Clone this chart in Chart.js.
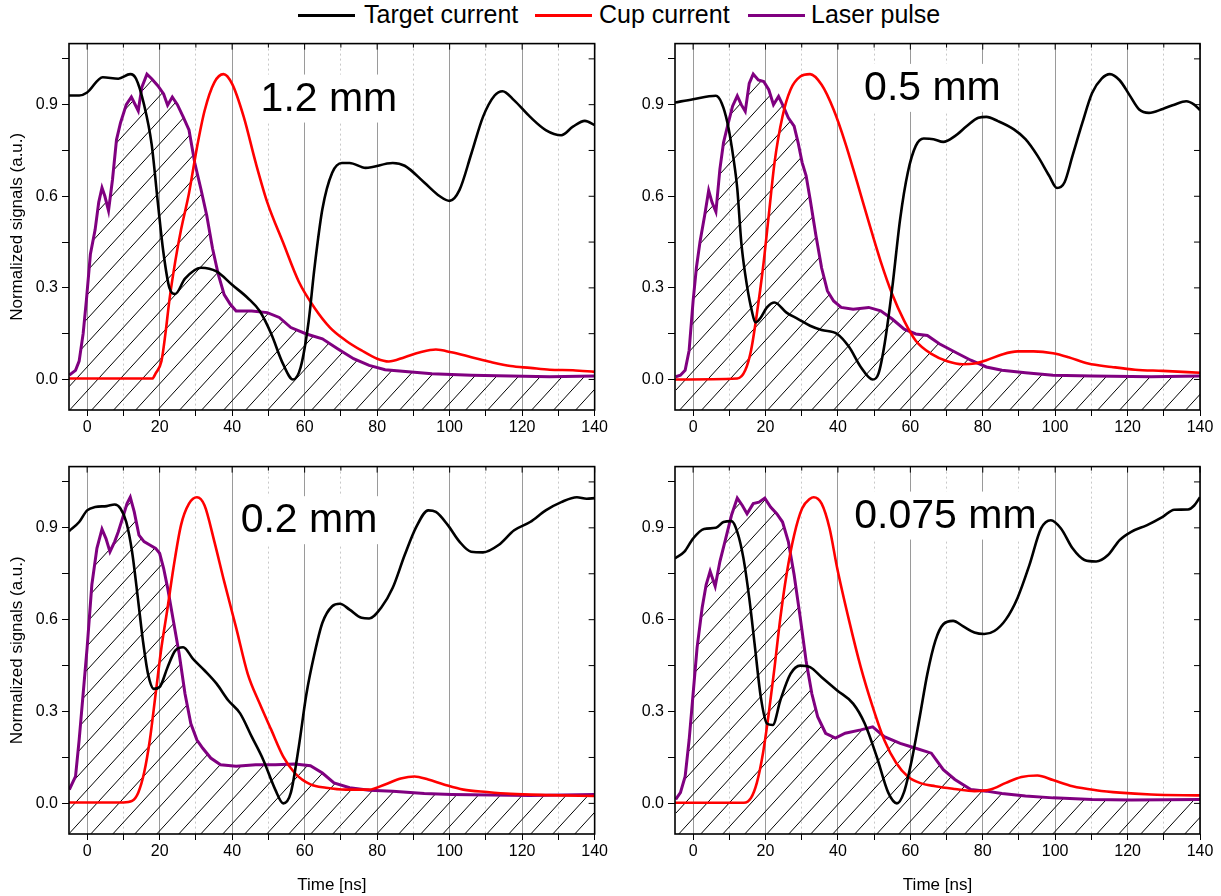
<!DOCTYPE html>
<html>
<head>
<meta charset="utf-8">
<script src="https://cdn.jsdelivr.net/npm/chart.js@4.4.1/dist/chart.umd.min.js"></script>
<style>
  html, body { margin: 0; padding: 0; background: #fff; }
  body { width: 1221px; height: 896px; position: relative; overflow: hidden; font-family: "Liberation Sans", Arial, sans-serif; }
  .box { position: absolute; }
  .legend { position: absolute; top: 0; height: 30px; font-size: 25px; color: #000; white-space: nowrap; }
  .legend span.ln { position: absolute; top: 14px; height: 3px; width: 57px; }
  .legend span.tx { position: absolute; top: 0px; }
</style>
</head>
<body>

<div class="legend" style="left:0;width:1221px">
  <span class="ln" style="left:298px;background:#000"></span><span class="tx" style="left:364px">Target current</span>
  <span class="ln" style="left:535px;background:#ff0000"></span><span class="tx" style="left:599px">Cup current</span>
  <span class="ln" style="left:748px;background:#800080"></span><span class="tx" style="left:811px">Laser pulse</span>
</div>

<div class="box" style="left:0;top:30px;width:610px;height:410px"><canvas id="c1"></canvas></div>
<div class="box" style="left:610px;top:30px;width:611px;height:410px"><canvas id="c2"></canvas></div>
<div class="box" style="left:0;top:453px;width:610px;height:443px"><canvas id="c3"></canvas></div>
<div class="box" style="left:610px;top:453px;width:611px;height:443px"><canvas id="c4"></canvas></div>

<script>
// ---- data: [time ns, normalized signal] ----

// 1.2 mm
let target12 = [[-5,0.93],[-2.2,0.93],[0,0.94],[4.3,0.99],[8.6,0.985],[11.9,1.0],[13.5,0.985],[15.7,0.90],[17.8,0.77],[19.5,0.58],[21,0.42],[22.7,0.30],[24.3,0.28],[27,0.33],[31.4,0.366],[35.7,0.354],[40,0.31],[44.3,0.267],[47.6,0.224],[50.8,0.149],[54,0.052],[56.8,0.0],[58.9,0.04],[61.1,0.19],[62.7,0.364],[64.9,0.558],[67.6,0.677],[70.3,0.709],[72.4,0.709],[76.8,0.693],[84.3,0.709],[87.6,0.70],[93,0.645],[97.3,0.60],[100,0.585],[102.7,0.62],[106,0.74],[109.2,0.86],[112.4,0.93],[114.6,0.944],[117.8,0.914],[122.2,0.86],[126.5,0.817],[130.8,0.80],[134,0.828],[137.3,0.847],[140,0.833]];
let cup12 = [[-5,0.003],[18,0.003],[18.9,0.02],[20.5,0.06],[21.6,0.15],[22.7,0.26],[24.3,0.386],[25.9,0.49],[28.1,0.61],[30.3,0.76],[32.4,0.88],[35.1,0.973],[37.6,1.0],[40,0.968],[43.2,0.86],[46.5,0.71],[49.7,0.58],[54,0.45],[58.4,0.32],[62.7,0.235],[67,0.17],[71.4,0.127],[75.7,0.095],[80,0.068],[83.2,0.059],[87.6,0.073],[91.9,0.089],[96.2,0.098],[100.5,0.089],[106,0.073],[111.4,0.057],[116.8,0.044],[122.2,0.038],[127.6,0.032],[134,0.03],[140,0.025]];
let laser12 = [[-4.9,0.014],[-3.2,0.03],[-2.2,0.06],[-1.1,0.15],[-0.2,0.26],[0.9,0.41],[2.2,0.49],[3.2,0.58],[4.1,0.628],[4.9,0.60],[5.9,0.553],[7,0.655],[8.1,0.785],[9.2,0.84],[10.8,0.90],[12.2,0.925],[14.1,0.88],[15.1,0.957],[16.5,1.0],[17.8,0.985],[19.5,0.962],[21.1,0.935],[22.2,0.898],[23.5,0.925],[24.9,0.90],[26.5,0.86],[28.1,0.817],[29.7,0.709],[31.4,0.623],[33,0.537],[34.6,0.429],[36.2,0.343],[37.8,0.278],[39.5,0.246],[41.1,0.224],[45.4,0.224],[49.7,0.219],[53,0.203],[56.2,0.17],[60.5,0.149],[64.9,0.133],[69.2,0.10],[73.5,0.068],[77.8,0.046],[82.2,0.032],[88.6,0.025],[95.1,0.019],[106,0.014],[116.8,0.011],[127.6,0.009],[140,0.011]];

// 0.5 mm
let target05 = [[-5,0.907],[0,0.918],[6.3,0.929],[7.9,0.905],[9.5,0.84],[11.2,0.72],[12.2,0.625],[13.3,0.45],[14.4,0.344],[16,0.236],[17.3,0.187],[18.7,0.203],[20.4,0.236],[22.5,0.252],[25.8,0.219],[29,0.198],[32.3,0.176],[35.5,0.162],[39.8,0.149],[43.1,0.106],[46.3,0.041],[49.6,0.0],[51.2,0.019],[52.9,0.117],[55,0.30],[57.2,0.527],[59.3,0.678],[61.5,0.765],[63.7,0.789],[66.4,0.787],[69.1,0.778],[72.3,0.797],[75.6,0.83],[78.8,0.857],[81,0.86],[84.2,0.846],[88.6,0.819],[91.8,0.787],[95.1,0.733],[98.3,0.668],[100.5,0.627],[102.6,0.646],[104.8,0.733],[107.5,0.84],[110.2,0.938],[112.9,0.986],[115.1,1.0],[117.8,0.98],[120.5,0.932],[123.2,0.884],[125.9,0.873],[129.7,0.886],[132.9,0.90],[136.2,0.911],[138.4,0.90],[140,0.882]];
let cup05 = [[-5,0.0],[12.2,0.003],[14.4,0.03],[16,0.095],[17.6,0.214],[19.3,0.365],[20.9,0.538],[22.5,0.711],[24.7,0.862],[26.9,0.949],[29.6,0.992],[32.3,1.0],[35.5,0.965],[38.8,0.884],[42,0.776],[45.3,0.646],[48.5,0.516],[51.8,0.387],[55,0.279],[58.3,0.192],[61.5,0.127],[65.8,0.084],[70.2,0.06],[74.5,0.05],[77.7,0.052],[81,0.063],[85.3,0.082],[89.6,0.092],[94,0.092],[99.4,0.086],[103.7,0.073],[109.1,0.052],[115.6,0.041],[122.1,0.032],[129.7,0.028],[140,0.022]];
let laser05 = [[-4.8,0.009],[-3.5,0.014],[-2.2,0.03],[-1.1,0.095],[0,0.257],[0.9,0.365],[1.9,0.45],[3.2,0.538],[4.3,0.619],[5.2,0.581],[6.3,0.549],[7.4,0.689],[8.4,0.776],[9.5,0.83],[10.9,0.895],[12.2,0.929],[13.3,0.90],[14.4,0.878],[15.5,0.97],[16.6,1.0],[18,0.981],[19.5,0.976],[20.9,0.949],[22.2,0.90],[23.6,0.927],[24.9,0.895],[26.3,0.857],[27.9,0.83],[29,0.776],[30.1,0.711],[31.2,0.668],[32.3,0.592],[33.9,0.473],[35.5,0.365],[37.1,0.29],[38.8,0.257],[40.9,0.236],[44.2,0.23],[48.5,0.236],[51.8,0.225],[55,0.198],[58.3,0.165],[61.5,0.149],[64.7,0.144],[68,0.117],[72.3,0.09],[76.7,0.063],[81,0.041],[85.3,0.03],[91.8,0.022],[99.4,0.014],[110.2,0.011],[126.5,0.009],[140,0.011]];

// 0.2 mm
let target02 = [[-5,0.889],[-2.2,0.919],[0,0.957],[2.2,0.968],[5.4,0.971],[7.6,0.976],[9.2,0.963],[10.8,0.919],[12.4,0.822],[14.1,0.66],[15.4,0.531],[16.8,0.423],[18.4,0.374],[20,0.38],[22.2,0.445],[24.3,0.499],[26.5,0.51],[29.2,0.472],[32.4,0.434],[35.7,0.391],[38.9,0.337],[42.2,0.294],[45.4,0.218],[48.6,0.142],[51.9,0.045],[54.1,0.0],[56.2,0.035],[58.4,0.186],[60.5,0.358],[62.7,0.488],[64.9,0.59],[67.6,0.644],[69.7,0.652],[72.4,0.633],[75.7,0.606],[77.8,0.604],[81.1,0.639],[84.3,0.704],[87.6,0.811],[90.8,0.903],[94.1,0.957],[96.2,0.952],[99.5,0.909],[102.7,0.855],[105.9,0.822],[109.2,0.82],[113.5,0.844],[117.8,0.892],[122.2,0.919],[126.5,0.957],[130.8,0.984],[135.1,1.0],[137.8,0.995],[140,0.997]];
let cup02 = [[-5,0.003],[10,0.003],[12.4,0.008],[14.1,0.035],[15.7,0.099],[17.3,0.207],[18.9,0.358],[20.5,0.509],[22.2,0.639],[23.8,0.768],[25.9,0.909],[28.1,0.979],[30.3,1.0],[32.4,0.973],[35.1,0.855],[37.8,0.725],[41.1,0.574],[44.3,0.423],[47.6,0.326],[50.8,0.24],[54.1,0.153],[57.3,0.099],[61.6,0.062],[65.9,0.051],[71.4,0.045],[77.8,0.045],[82.2,0.062],[86.5,0.081],[90.3,0.088],[94.1,0.078],[98.4,0.062],[103.8,0.045],[110.3,0.037],[116.8,0.031],[127.6,0.027],[140,0.024]];
let laser02 = [[-4.9,0.045],[-3.2,0.088],[-2.2,0.207],[-1.1,0.358],[0,0.509],[1.3,0.714],[2.7,0.833],[4.1,0.896],[5.2,0.865],[6.3,0.822],[7.6,0.855],[8.6,0.887],[9.9,0.936],[11,0.979],[11.9,1.0],[13,0.952],[14.3,0.876],[15.7,0.855],[17.3,0.844],[18.9,0.833],[20,0.817],[21.1,0.768],[22.2,0.704],[23.8,0.596],[25.4,0.488],[27,0.358],[28.6,0.261],[30.3,0.207],[31.9,0.18],[34.1,0.148],[36.8,0.126],[41.1,0.121],[46.5,0.126],[51.9,0.126],[57.3,0.129],[61.6,0.123],[64.9,0.099],[68.1,0.067],[72.4,0.051],[77.8,0.043],[84.3,0.04],[93,0.032],[100.5,0.029],[111.4,0.027],[122.2,0.026],[140,0.029]];

// 0.075 mm
let target0075 = [[-5,0.80],[-2.4,0.822],[0,0.865],[3,0.896],[6.3,0.90],[8.4,0.919],[10.6,0.922],[12.2,0.887],[13.9,0.801],[15.5,0.671],[17.1,0.509],[18.7,0.347],[20.4,0.261],[22,0.256],[24.1,0.337],[26.9,0.423],[29.6,0.45],[32.3,0.445],[35.5,0.412],[39.8,0.369],[44.2,0.326],[47.4,0.261],[50.7,0.153],[53.9,0.035],[56.3,0.0],[58.2,0.035],[60.4,0.142],[62.6,0.283],[64.7,0.423],[66.9,0.531],[69.1,0.585],[71.8,0.596],[74.5,0.579],[77.7,0.558],[80.4,0.553],[83.2,0.563],[86.4,0.601],[89.6,0.671],[92.9,0.779],[96.1,0.898],[98.8,0.925],[101.6,0.898],[104.8,0.833],[108.1,0.795],[111.3,0.79],[114.6,0.811],[117.8,0.86],[121,0.887],[125.4,0.909],[129.7,0.936],[132.9,0.959],[136.7,0.96],[138.4,0.973],[140,1.0]];
let cup0075 = [[-5,0.002],[14,0.002],[16,0.018],[17.6,0.067],[19.3,0.164],[20.9,0.294],[22.5,0.445],[24.1,0.606],[25.8,0.747],[27.9,0.876],[30.1,0.963],[32.3,0.995],[33.3,1.0],[35.5,0.979],[37.7,0.898],[39.8,0.768],[43.1,0.596],[46.3,0.445],[49.6,0.315],[52.8,0.207],[56.1,0.132],[59.3,0.088],[62.6,0.067],[66.9,0.056],[72.3,0.047],[77.7,0.04],[82.1,0.045],[86.4,0.067],[90.7,0.086],[95.1,0.091],[99.4,0.076],[104.8,0.056],[111.3,0.043],[117.8,0.035],[126.5,0.029],[140,0.026]];
let laser0075 = [[-4.8,0.013],[-3.5,0.035],[-2.2,0.088],[-1.1,0.207],[0,0.358],[1.1,0.509],[2.5,0.639],[3.6,0.714],[4.7,0.758],[6.1,0.709],[7.4,0.79],[9,0.865],[10.6,0.941],[12.2,0.997],[13.6,0.973],[14.9,0.946],[16.6,0.979],[18.2,0.984],[19.8,0.997],[21.4,0.968],[23.1,0.946],[24.7,0.919],[26.3,0.855],[27.9,0.747],[29.6,0.606],[31.2,0.466],[32.8,0.358],[34.4,0.283],[36.6,0.229],[39.3,0.213],[42,0.229],[46.3,0.24],[49.6,0.25],[52.8,0.218],[57.2,0.196],[61.5,0.18],[65.8,0.164],[69.1,0.11],[72.3,0.078],[76.7,0.045],[81,0.04],[85.3,0.032],[91.8,0.024],[99.4,0.018],[110.2,0.013],[121,0.011],[140,0.013]];

let panelNames = ['1.2 mm', '0.5 mm', '0.2 mm', '0.075 mm'];
let yTickLabels = [0.0, 0.3, 0.6, 0.9];
let xTickLabels = [0, 20, 40, 60, 80, 100, 120, 140];

// hatch pattern for the laser pulse area
function makeHatch() {
    let c = document.createElement('canvas');
    let w = 22, h = 24;
    c.width = w; c.height = h;
    let g = c.getContext('2d');
    g.strokeStyle = '#000';
    g.lineWidth = 1;
    g.beginPath();
    g.moveTo(-w, 2 * h); g.lineTo(2 * w, -h);
    g.moveTo(-2 * w, 2 * h); g.lineTo(w, -h);
    g.moveTo(0, 2 * h); g.lineTo(3 * w, -h);
    g.stroke();
    return g.createPattern(c, 'repeat');
}
let hatch = makeHatch();

// tick positions: every 10 ns, every 0.15 a.u.
function xTicks(s) {
    let t = [];
    for (let i = 0; i <= 14; i++) t.push({ value: i * 10 });
    s.ticks = t;
}
function yTicks(s) {
    let t = [];
    for (let i = 0; i <= 7; i++) t.push({ value: Math.round(i * 15) / 100 });
    s.ticks = t;
}

// frame + inward ticks on top/right
let framePlugin = {
    id: 'frame',
    afterDraw(chart) {
        let ctx = chart.ctx, a = chart.chartArea, x = chart.scales.x, y = chart.scales.y;
        ctx.save();
        ctx.strokeStyle = '#000';
        ctx.lineWidth = 1;
        ctx.beginPath();
        x.ticks.forEach(t => {
            let px = x.getPixelForValue(t.value);
            let len = t.value % 20 === 0 ? 6 : 4;
            ctx.moveTo(px, a.top); ctx.lineTo(px, a.top + len);
        });
        y.ticks.forEach(t => {
            let py = y.getPixelForValue(t.value);
            ctx.moveTo(a.right, py); ctx.lineTo(a.right - 6, py);
        });
        ctx.stroke();
        ctx.lineWidth = 1.6;
        ctx.strokeRect(a.left, a.top, a.right - a.left, a.bottom - a.top);
        ctx.restore();
    }
};

// big thickness label with white box behind it
let labelPlugin = {
    id: 'panelLabel',
    beforeDatasetsDraw(chart, args, opts) {
        let ctx = chart.ctx;
        let px = chart.scales.x.getPixelForValue(opts.t);
        let py = chart.scales.y.getPixelForValue(opts.v);
        ctx.save();
        ctx.font = '41px "Liberation Sans", Arial, sans-serif';
        let w = ctx.measureText(opts.text).width;
        ctx.fillStyle = '#fff';
        ctx.fillRect(px - w / 2 - 4, py - 24, w + 8, 48);
        ctx.fillStyle = '#000';
        ctx.textAlign = 'center';
        ctx.textBaseline = 'middle';
        ctx.fillText(opts.text, px, py + 1);
        ctx.restore();
    }
};

function makeChart(id, target, cup, laser, name, pos, opts) {
    let ctx = document.getElementById(id).getContext('2d');
    return new Chart(ctx, {
        type: 'line',
        data: {
            datasets: [
                {
                    label: 'Target current',
                    data: target.map(p => ({x: p[0], y: p[1]})),
                    borderColor: '#000000',
                    borderWidth: 2.6,
                    cubicInterpolationMode: 'monotone',
                    pointRadius: 0,
                    fill: false,
                },
                {
                    label: 'Cup current',
                    data: cup.map(p => ({x: p[0], y: p[1]})),
                    borderColor: '#ff0000',
                    borderWidth: 2.6,
                    cubicInterpolationMode: 'monotone',
                    pointRadius: 0,
                    fill: false,
                },
                {
                    label: 'Laser pulse',
                    data: laser.map(p => ({x: p[0], y: p[1]})),
                    borderColor: '#800080',
                    borderWidth: 3,
                    tension: 0,
                    pointRadius: 0,
                    fill: 'start',
                    backgroundColor: hatch,
                },
            ]
        },
        options: {
            responsive: true,
            maintainAspectRatio: false,
            animation: false,
            layout: { padding: { top: 10, right: opts.padRight, left: 0, bottom: 0 } },
            plugins: {
                legend: { display: false },
                tooltip: { enabled: false },
                panelLabel: { text: name, t: pos[0], v: pos[1] },
            },
            scales: {
                x: {
                    type: 'linear',
                    min: -5,
                    max: 140,
                    afterBuildTicks: xTicks,
                    afterFit: s => { s.height = opts.xHeight; },
                    ticks: {
                        autoSkip: false,
                        maxRotation: 0,
                        color: '#000',
                        padding: 2,
                        font: { family: '"Liberation Sans", Arial, sans-serif', size: 16 },
                        callback: v => xTickLabels.includes(v) ? String(v) : '',
                    },
                    grid: {
                        color: c => (c.tick && c.tick.value % 20 === 0) ? '#9a9a9a' : '#c8c8c8',
                        lineWidth: 1,
                        tickColor: '#000',
                        tickLength: 6,
                        drawTicks: true,
                    },
                    border: {
                        display: false,
                        dash: c => (c.tick && c.tick.value % 20 !== 0) ? [2, 3] : [],
                    },
                    title: {
                        display: opts.xTitle,
                        text: 'Time [ns]',
                        color: '#000',
                        font: { family: '"Liberation Sans", Arial, sans-serif', size: 17 },
                        padding: { top: 8, bottom: 0 },
                    },
                },
                y: {
                    type: 'linear',
                    min: -0.1,
                    max: 1.1,
                    afterBuildTicks: yTicks,
                    afterFit: s => { s.width = opts.yWidth; },
                    ticks: {
                        autoSkip: false,
                        color: '#000',
                        padding: 4,
                        font: { family: '"Liberation Sans", Arial, sans-serif', size: 16 },
                        callback: v => yTickLabels.some(l => Math.abs(l - v) < 1e-6) ? v.toFixed(1) : '',
                    },
                    grid: {
                        drawOnChartArea: false,
                        tickColor: '#000',
                        tickLength: 7,
                    },
                    border: { display: false },
                    title: {
                        display: opts.yTitle,
                        text: 'Normalized signals (a.u.)',
                        color: '#000',
                        font: { family: '"Liberation Sans", Arial, sans-serif', size: 17 },
                        padding: { top: 7, bottom: 0 },
                    },
                },
            },
        },
        plugins: [labelPlugin, framePlugin],
    });
}

let chart1 = makeChart('c1', target12, cup12, laser12, panelNames[0], [66.7, 0.92], { padRight: 12, xHeight: 30, yWidth: 69, xTitle: false, yTitle: true });
let chart2 = makeChart('c2', target05, cup05, laser05, panelNames[1], [66.1, 0.955], { padRight: 21, xHeight: 30, yWidth: 65, xTitle: false, yTitle: false });
let chart3 = makeChart('c3', target02, cup02, laser02, panelNames[2], [61.2, 0.925], { padRight: 12, xHeight: 62, yWidth: 69, xTitle: true, yTitle: true });
let chart4 = makeChart('c4', target0075, cup0075, laser0075, panelNames[3], [69.7, 0.94], { padRight: 21, xHeight: 62, yWidth: 65, xTitle: true, yTitle: false });
</script>
</body>
</html>
